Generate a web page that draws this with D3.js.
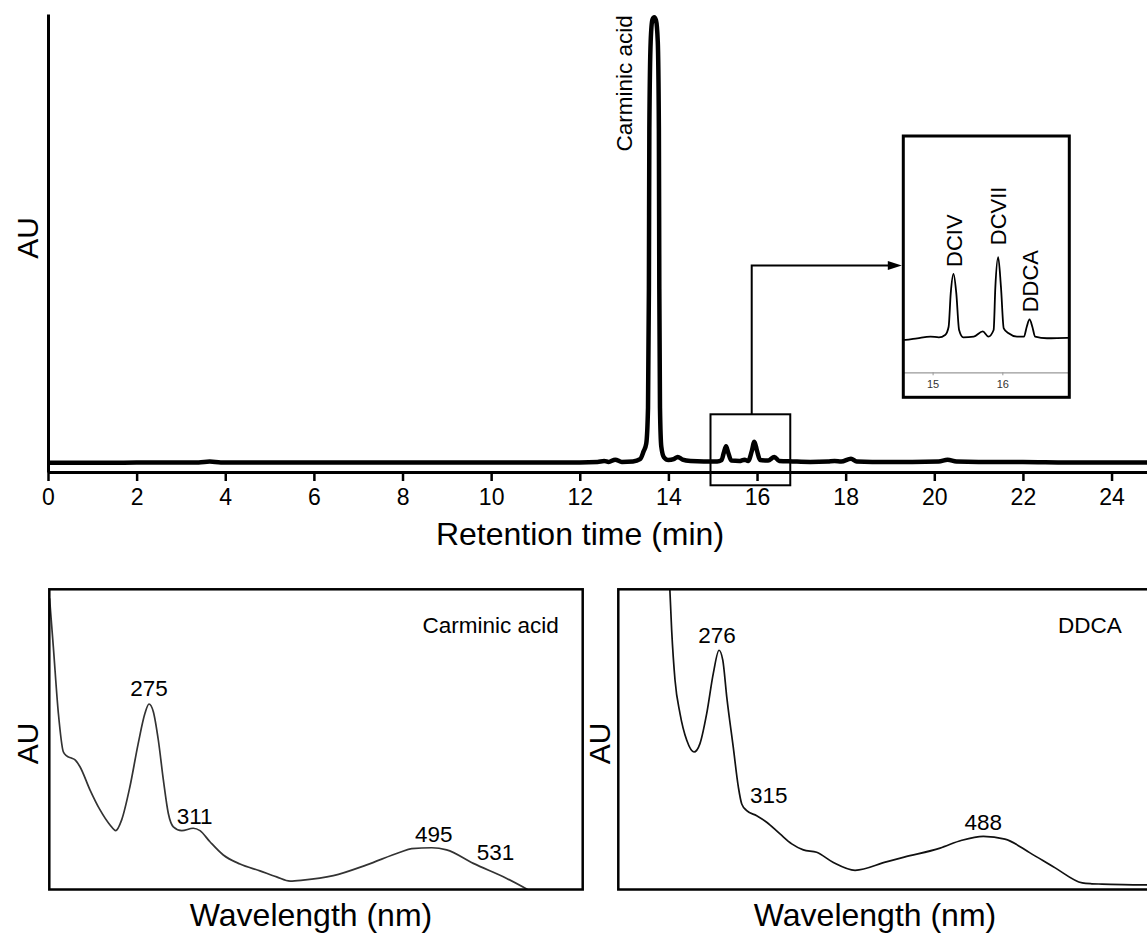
<!DOCTYPE html>
<html>
<head>
<meta charset="utf-8">
<script src="https://cdn.jsdelivr.net/npm/d3@7"></script>
<style>
  body { margin: 0; background: #fff; }
  svg { display: block; font-family: "Liberation Sans", Arial, sans-serif; }
</style>
</head>
<body>
<div id="chart"></div>
<script>
const width = 1147;
const height = 938;

// HPLC trace: [retention time (min), absorbance (main peak ~1000)]
const chromatogram = [
  [0, 20], [0.6, 20], [1.5, 20], [2.5, 21], [3.4, 21], [3.65, 23], [3.9, 21],
  [5, 21], [6.5, 21], [8, 21], [9.5, 21], [11, 21], [12, 21], [12.4, 22],
  [12.55, 24], [12.65, 22], [12.8, 27], [12.95, 22], [13.2, 23], [13.36, 28],
  [13.44, 45], [13.5, 62], [13.54, 140], [13.56, 400], [13.57, 750], [13.6, 940],
  [13.64, 988], [13.68, 993], [13.72, 986], [13.76, 940], [13.785, 750],
  [13.795, 400], [13.81, 140], [13.84, 55], [13.9, 32], [14.0, 26], [14.12, 28],
  [14.21, 33], [14.32, 27], [14.5, 24], [14.8, 23], [15.1, 23], [15.2, 26],
  [15.25, 42], [15.3, 56], [15.35, 42], [15.42, 25], [15.6, 24], [15.72, 27],
  [15.8, 24], [15.88, 45], [15.94, 66], [16.0, 46], [16.07, 26], [16.25, 25],
  [16.39, 33], [16.5, 24], [16.8, 23], [17.2, 22], [17.6, 23], [17.75, 24],
  [17.9, 23], [18.12, 29], [18.25, 23], [18.6, 22], [19.5, 22], [20.1, 23],
  [20.3, 27], [20.5, 23], [21, 22], [22, 22], [23, 21], [24, 21], [24.8, 21],
];

// enlarged window 15-16.75 min
const insetTrace = [
  [14.58, 0.137], [14.61, 0.137], [14.78, 0.144], [14.97, 0.151], [15.09, 0.148],
  [15.18, 0.158], [15.23, 0.193], [15.26, 0.334], [15.3, 0.416], [15.34, 0.334],
  [15.38, 0.179], [15.44, 0.148], [15.59, 0.151], [15.72, 0.173], [15.8, 0.151],
  [15.875, 0.179], [15.9, 0.362], [15.94, 0.487], [15.98, 0.362], [16.02, 0.186],
  [16.09, 0.165], [16.21, 0.151], [16.31, 0.151], [16.35, 0.193], [16.39, 0.224],
  [16.43, 0.193], [16.47, 0.151], [16.64, 0.144], [16.93, 0.146], [16.96, 0.146],
];

const timeTicks = [0, 2, 4, 6, 8, 10, 12, 14, 16, 18, 20, 22, 24];
const insetTicks = [15, 16];
const insetPeaks = [
  { name: "DCIV", time: 15.3 },
  { name: "DCVII", time: 15.94 },
  { name: "DDCA", time: 16.39 },
];

// UV-Vis spectra: [wavelength (nm), relative absorbance]
const carminicSpectrum = [
  [198.2, 0.97], [201.1, 0.809], [205, 0.587], [208.8, 0.459], [211.4, 0.445],
  [215, 0.438], [217.9, 0.432], [221.7, 0.409], [229.4, 0.332], [237.2, 0.265],
  [244.9, 0.215], [249.3, 0.196], [253.9, 0.232], [260.3, 0.343], [266.7, 0.487],
  [271.9, 0.587], [275, 0.618], [278.3, 0.593], [282.2, 0.498], [286.1, 0.365],
  [289.9, 0.254], [293.8, 0.209], [300.3, 0.196], [309.2, 0.204], [314.4, 0.196],
  [322.1, 0.159], [332.4, 0.115], [345.3, 0.085], [360.7, 0.062], [373.6, 0.042],
  [384, 0.028], [394, 0.031], [417.4, 0.046], [443.2, 0.082], [468.9, 0.124],
  [477.9, 0.136], [493.4, 0.139], [504.9, 0.132], [525.5, 0.087], [551.3, 0.037],
  [567.4, 0.0],
];
const carminicBands = [275, 311, 495, 531];

const ddcaSpectrum = [
  [236.0, 1.05], [238, 0.864], [240.7, 0.697], [244.7, 0.586], [250.1, 0.497],
  [255.9, 0.458], [260.7, 0.486], [266.1, 0.586], [271.4, 0.72], [276, 0.797],
  [279, 0.764], [282.2, 0.641], [287.4, 0.474], [291.5, 0.341], [294.2, 0.285],
  [298.2, 0.263], [306.2, 0.246], [314.2, 0.224], [324.9, 0.185], [334.3, 0.152],
  [343.6, 0.132], [354.3, 0.124], [367.7, 0.09], [385.1, 0.064], [410.1, 0.092],
  [424.5, 0.108], [453.3, 0.138], [470.7, 0.164], [488, 0.177], [505.3, 0.168],
  [525.4, 0.122], [545.6, 0.072], [567.3, 0.022], [575, 0.019], [583.2, 0.018],
  [600, 0.016], [623, 0.015],
];
const ddcaBands = [276, 315, 488];

const svg = d3
  .select("#chart")
  .append("svg")
  .attr("width", width)
  .attr("height", height);

// ---------- chromatogram ----------
const x = d3.scaleLinear().domain([0, 24.8]).range([48, 1147]);
const y = d3.scaleLinear().domain([0, 1000]).range([472, 14]);

const xAxisG = svg
  .append("g")
  .attr("transform", `translate(0,${y(0)})`)
  .call(
    d3.axisBottom(x).tickValues(timeTicks).tickSize(9).tickSizeOuter(0).tickPadding(8),
  );
xAxisG.attr("font-family", null);
xAxisG.select(".domain").attr("stroke", "#000").attr("stroke-width", 3);
xAxisG.selectAll(".tick line").attr("stroke", "#000").attr("stroke-width", 2.5);
xAxisG.selectAll(".tick text").attr("font-size", 23).attr("fill", "#000");

const yAxisG = svg
  .append("g")
  .attr("transform", `translate(${x(0)},0)`)
  .call(d3.axisLeft(y).tickValues([]).tickSizeOuter(0));
yAxisG.select(".domain").attr("stroke", "#000").attr("stroke-width", 3);

svg
  .append("path")
  .datum(chromatogram)
  .attr("fill", "none")
  .attr("stroke", "#000")
  .attr("stroke-width", 4.5)
  .attr("stroke-linejoin", "round")
  .attr("d", d3.line().x((d) => x(d[0])).y((d) => y(d[1])).curve(d3.curveMonotoneX));

svg
  .append("text")
  .attr("transform", `translate(${x(13.68) - 22},${y(700)}) rotate(-90)`)
  .attr("font-size", 22.5)
  .text("Carminic acid");

svg
  .append("text")
  .attr("transform", `translate(38,${(y(0) + y(1000)) / 2 - 5}) rotate(-90)`)
  .attr("text-anchor", "middle")
  .attr("font-size", 30)
  .text("AU");

svg
  .append("text")
  .attr("x", 580)
  .attr("y", 545)
  .attr("text-anchor", "middle")
  .attr("font-size", 32)
  .text("Retention time (min)");

// zoom window and connector
const zoomWin = { t0: 14.95, t1: 16.75, lo: -29, hi: 126, link: 15.88, level: 451 };
svg
  .append("rect")
  .attr("x", x(zoomWin.t0))
  .attr("y", y(zoomWin.hi))
  .attr("width", x(zoomWin.t1) - x(zoomWin.t0))
  .attr("height", y(zoomWin.lo) - y(zoomWin.hi))
  .attr("fill", "none")
  .attr("stroke", "#000")
  .attr("stroke-width", 2);

// ---------- inset ----------
const inset = { left: 903.3, top: 136, right: 1069.3, bottom: 397.3, axisY: 372.3 };
const ix = d3.scaleLinear().domain([14.58, 16.96]).range([inset.left, inset.right]);
const iy = d3.scaleLinear().domain([0, 1]).range([inset.axisY, inset.top]);

svg
  .append("path")
  .attr("fill", "none")
  .attr("stroke", "#000")
  .attr("stroke-width", 2)
  .attr(
    "d",
    `M${x(zoomWin.link)},${y(zoomWin.hi)}V${y(zoomWin.level)}H${inset.left - 14}`,
  );
svg
  .append("path")
  .attr("fill", "#000")
  .attr("d", `M${inset.left - 1.5},${y(zoomWin.level)}l-14,-4.5v9z`);

svg
  .append("clipPath")
  .attr("id", "inset-clip")
  .append("rect")
  .attr("x", inset.left)
  .attr("y", inset.top)
  .attr("width", inset.right - inset.left)
  .attr("height", inset.bottom - inset.top);

svg
  .append("rect")
  .attr("x", inset.left)
  .attr("y", inset.top)
  .attr("width", inset.right - inset.left)
  .attr("height", inset.bottom - inset.top)
  .attr("fill", "#fff");

const insetAxisG = svg
  .append("g")
  .attr("transform", `translate(0,${inset.axisY})`)
  .call(
    d3
      .axisBottom(ix)
      .tickValues(insetTicks)
      .tickFormat(d3.format("d"))
      .tickSize(3)
      .tickSizeOuter(0)
      .tickPadding(5),
  );
insetAxisG.attr("font-family", null);
insetAxisG.select(".domain").attr("stroke", "#999").attr("stroke-width", 1.2);
insetAxisG.selectAll(".tick line").attr("stroke", "#999");
insetAxisG.selectAll(".tick text").attr("font-size", 11).attr("fill", "#333");

svg
  .append("path")
  .datum(insetTrace)
  .attr("clip-path", "url(#inset-clip)")
  .attr("fill", "none")
  .attr("stroke", "#000")
  .attr("stroke-width", 1.8)
  .attr("stroke-linejoin", "round")
  .attr("d", d3.line().x((d) => ix(d[0])).y((d) => iy(d[1])).curve(d3.curveMonotoneX));

const insetGap = { DCIV: 7, DCVII: 12, DDCA: 7 };
svg
  .selectAll("text.peak")
  .data(insetPeaks)
  .join("text")
  .attr("class", "peak")
  .attr(
    "transform",
    (d) =>
      `translate(${ix(d.time) + 8},${iy(valueAt(insetTrace, d.time)) - insetGap[d.name]}) rotate(-90)`,
  )
  .attr("font-size", 22)
  .text((d) => d.name);

svg
  .append("rect")
  .attr("x", inset.left)
  .attr("y", inset.top)
  .attr("width", inset.right - inset.left)
  .attr("height", inset.bottom - inset.top)
  .attr("fill", "none")
  .attr("stroke", "#000")
  .attr("stroke-width", 3);

// ---------- spectra ----------
const panelTop = 589.3;
const panelBottom = 889.5;

drawSpectrum({
  id: "carminic",
  left: 49.3,
  right: 582.7,
  domain: [198, 610],
  data: carminicSpectrum,
  bands: carminicBands,
  offsets: { 275: [0, -8], 311: [-1, -5.5], 495: [0, -6], 531: [15, -6.5] },
  title: "Carminic acid",
  titleInset: 24,
  stroke: "#333",
  auX: 38,
  xLabel: 311,
});

drawSpectrum({
  id: "ddca",
  left: 618.3,
  right: 1151.7,
  domain: [195.2, 623],
  data: ddcaSpectrum,
  bands: ddcaBands,
  offsets: { 276: [-2, -7.5], 315: [1, -20], 488: [0, -6.5] },
  title: "DDCA",
  titleInset: 30,
  stroke: "#111",
  auX: 610,
  xLabel: 875,
});

function drawSpectrum(p) {
  const sx = d3.scaleLinear().domain(p.domain).range([p.left, p.right]);
  const sy = d3.scaleLinear().domain([0, 1]).range([panelBottom, panelTop]);

  svg
    .append("clipPath")
    .attr("id", `clip-${p.id}`)
    .append("rect")
    .attr("x", p.left)
    .attr("y", panelTop)
    .attr("width", p.right - p.left)
    .attr("height", panelBottom - panelTop);

  svg
    .append("path")
    .datum(p.data)
    .attr("clip-path", `url(#clip-${p.id})`)
    .attr("fill", "none")
    .attr("stroke", p.stroke)
    .attr("stroke-width", 1.7)
    .attr("stroke-linejoin", "round")
    .attr("d", d3.line().x((d) => sx(d[0])).y((d) => sy(d[1])).curve(d3.curveMonotoneX));

  svg
    .append("rect")
    .attr("x", p.left)
    .attr("y", panelTop)
    .attr("width", p.right - p.left)
    .attr("height", panelBottom - panelTop)
    .attr("fill", "none")
    .attr("stroke", "#000")
    .attr("stroke-width", 2.5);

  svg
    .selectAll(`text.band-${p.id}`)
    .data(p.bands)
    .join("text")
    .attr("class", `band-${p.id}`)
    .attr("x", (d) => sx(d) + p.offsets[d][0])
    .attr("y", (d) => sy(valueAt(p.data, d)) + p.offsets[d][1])
    .attr("text-anchor", "middle")
    .attr("font-size", 22.5)
    .text((d) => d);

  svg
    .append("text")
    .attr("x", p.right - p.titleInset)
    .attr("y", panelTop + 44)
    .attr("text-anchor", "end")
    .attr("font-size", 22.5)
    .text(p.title);

  svg
    .append("text")
    .attr("transform", `translate(${p.auX},${(panelTop + panelBottom) / 2 + 4}) rotate(-90)`)
    .attr("text-anchor", "middle")
    .attr("font-size", 30)
    .text("AU");

  svg
    .append("text")
    .attr("x", p.xLabel)
    .attr("y", 926)
    .attr("text-anchor", "middle")
    .attr("font-size", 32)
    .text("Wavelength (nm)");
}

function valueAt(series, key) {
  const i = d3.bisector((d) => d[0]).left(series, key);
  if (i <= 0) return series[0][1];
  if (i >= series.length) return series[series.length - 1][1];
  const a = series[i - 1];
  const b = series[i];
  const f = (key - a[0]) / (b[0] - a[0]);
  return a[1] + f * (b[1] - a[1]);
}
</script>
</body>
</html>
